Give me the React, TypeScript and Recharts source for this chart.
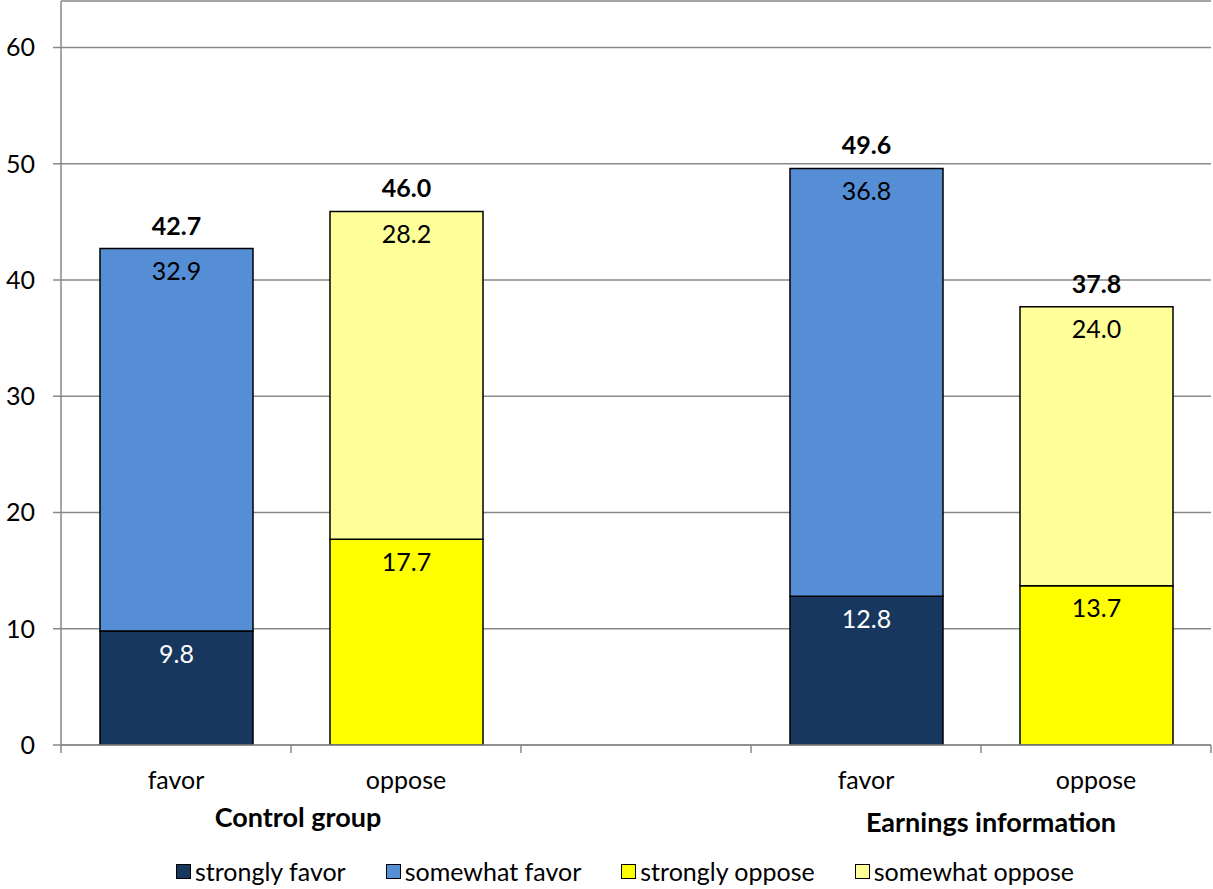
import { BarChart, Bar, XAxis, YAxis, CartesianGrid, Legend, LabelList } from 'recharts'

const categories = ['favor', 'oppose', '', 'favor', 'oppose']
const strongFavor = [9.8, null, null, 12.8, null]
const somewhatFavor = [32.9, null, null, 36.8, null]
const strongOppose = [null, 17.7, null, null, 13.7]
const somewhatOppose = [null, 28.2, null, null, 24.0]
const totals = [42.7, 46.0, null, 49.6, 37.8]

const groupLabels: Record<number, string> = { 1: 'Control group', 4: 'Earnings information' }
const yTicks = [0, 10, 20, 30, 40, 50, 60]
const edgeTicks = [0, 1, 2, 3, 4, 5]

const series = [
  { key: 'strongFavor', name: 'strongly favor', color: '#17375E' },
  { key: 'somewhatFavor', name: 'somewhat favor', color: '#558ED5' },
  { key: 'strongOppose', name: 'strongly oppose', color: '#FFFF00' },
  { key: 'somewhatOppose', name: 'somewhat oppose', color: '#FFFF99' },
]

const data = categories.map((label, i) => ({
  key: `c${i}`,
  slot: i + 0.5,
  label,
  strongFavor: strongFavor[i],
  somewhatFavor: somewhatFavor[i],
  strongOppose: strongOppose[i],
  somewhatOppose: somewhatOppose[i],
  favorTotal: label === 'favor' ? totals[i] : null,
  opposeTotal: label === 'oppose' ? totals[i] : null,
}))

const GRID = '#898989'
const FONT = 25

const fmt = (v: any) => (v == null ? '' : Number(v).toFixed(1))

// group names sit on the boundary ticks between each pair of bars
function GroupTick({ x, y, payload }: any) {
  const text = groupLabels[payload.value]
  if (!text) return null
  const dx = payload.value === 1 ? 7 : 10
  const dy = payload.value === 1 ? 72 : 77
  return (
    <text x={x + dx} y={y + dy} textAnchor="middle" fontSize={27} fontWeight="bold" fill="#000">
      {text}
    </text>
  )
}

function LegendContent() {
  return (
    <div
      style={{
        display: 'flex',
        justifyContent: 'center',
        paddingLeft: 39,
        height: 28,
        lineHeight: '28px',
        fontSize: FONT,
        color: '#000',
        whiteSpace: 'nowrap',
      }}
    >
      {series.map((s, i) => (
        <div key={s.key} style={{ display: 'flex', alignItems: 'center', marginLeft: i ? 40 : 0 }}>
          <span
            style={{
              width: 13,
              height: 13,
              background: s.color,
              border: '1.5px solid #000',
              marginRight: 4,
              display: 'inline-block',
            }}
          />
          <span>{s.name}</span>
        </div>
      ))}
    </div>
  )
}

export default function App() {
  return (
    <div
      style={{
        position: 'absolute',
        left: 0,
        top: 0,
        width: 1213,
        height: 889,
        background: '#fff',
        fontFamily: 'Lato, sans-serif',
      }}
    >
      <BarChart width={1213} height={889} data={data} margin={{ top: 1, right: 2, left: 0, bottom: 4 }}>
        <CartesianGrid xAxisId="b_cat" vertical={false} stroke={GRID} strokeWidth={1.5} />
        <XAxis
          xAxisId="b_cat"
          dataKey="key"
          tickFormatter={(_, i) => categories[i]}
          height={104}
          tickSize={0}
          tickMargin={18}
          axisLine={false}
          tickLine={false}
          interval={0}
          tick={{ fill: '#000', fontSize: FONT }}
        />
        <XAxis
          xAxisId="a_edges"
          dataKey="slot"
          type="number"
          domain={[0, 5]}
          allowDataOverflow
          ticks={edgeTicks}
          height={8}
          tickSize={8}
          tickMargin={2}
          axisLine={{ stroke: GRID, strokeWidth: 1.5 }}
          tickLine={{ stroke: GRID, strokeWidth: 1.5 }}
          tick={<GroupTick />}
          interval={0}
        />
        <YAxis
          domain={[0, 64]}
          ticks={yTicks}
          width={61}
          tickSize={8}
          tickMargin={18}
          axisLine={{ stroke: GRID, strokeWidth: 1.5 }}
          tickLine={{ stroke: GRID, strokeWidth: 1.5 }}
          tick={{ fill: '#000', fontSize: FONT }}
          allowDataOverflow
        />
        <Legend verticalAlign="bottom" content={<LegendContent />} />
        <Bar
          xAxisId="b_cat"
          dataKey="strongFavor"
          name="strongly favor"
          stackId="s"
          fill="#17375E"
          stroke="#000"
          strokeWidth={1.5}
          barSize={153}
          isAnimationActive={false}
        >
          <LabelList dataKey="strongFavor" position="insideTop" offset={14} fill="#fff" fontSize={FONT} formatter={fmt} />
        </Bar>
        <Bar
          xAxisId="b_cat"
          dataKey="somewhatFavor"
          name="somewhat favor"
          stackId="s"
          fill="#558ED5"
          stroke="#000"
          strokeWidth={1.5}
          barSize={153}
          isAnimationActive={false}
        >
          <LabelList dataKey="somewhatFavor" position="insideTop" offset={14} fill="#000" fontSize={FONT} formatter={fmt} />
          <LabelList
            dataKey="favorTotal"
            position="top"
            offset={14}
            fill="#000"
            fontSize={FONT}
            fontWeight="bold"
            formatter={fmt}
          />
        </Bar>
        <Bar
          xAxisId="b_cat"
          dataKey="strongOppose"
          name="strongly oppose"
          stackId="s"
          fill="#FFFF00"
          stroke="#000"
          strokeWidth={1.5}
          barSize={153}
          isAnimationActive={false}
        >
          <LabelList dataKey="strongOppose" position="insideTop" offset={14} fill="#000" fontSize={FONT} formatter={fmt} />
        </Bar>
        <Bar
          xAxisId="b_cat"
          dataKey="somewhatOppose"
          name="somewhat oppose"
          stackId="s"
          fill="#FFFF99"
          stroke="#000"
          strokeWidth={1.5}
          barSize={153}
          isAnimationActive={false}
        >
          <LabelList dataKey="somewhatOppose" position="insideTop" offset={14} fill="#000" fontSize={FONT} formatter={fmt} />
          <LabelList
            dataKey="opposeTotal"
            position="top"
            offset={14}
            fill="#000"
            fontSize={FONT}
            fontWeight="bold"
            formatter={fmt}
          />
        </Bar>
      </BarChart>
    </div>
  )
}
